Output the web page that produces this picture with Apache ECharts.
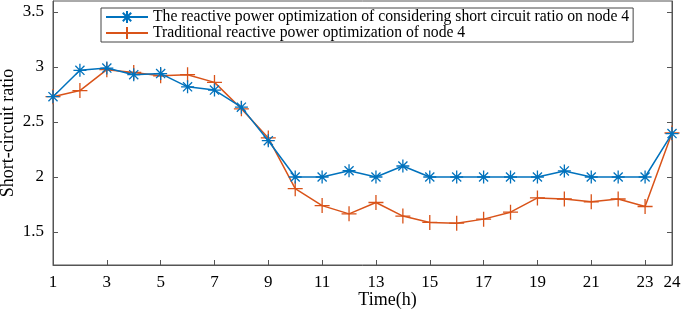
<!DOCTYPE html>
<html>
<head>
<meta charset="utf-8">
<script src="https://cdn.jsdelivr.net/npm/echarts@6/dist/echarts.min.js"></script>
<style>
html, body { margin: 0; padding: 0; background: #fff; }
#main { width: 699px; height: 309px; }
</style>
</head>
<body>
<div id="main"></div>
<script>
var hours = [1, 2, 3, 4, 5, 6, 7, 8, 9, 10, 11, 12, 13, 14, 15, 16, 17, 18, 19, 20, 21, 22, 23, 24];
var withScr = [2.73, 2.97, 2.99, 2.93, 2.94, 2.82, 2.79, 2.635, 2.33, 2.0, 2.0, 2.057, 2.0, 2.10, 2.0, 2.0, 2.0, 2.0, 2.0, 2.055, 2.0, 2.0, 2.0, 2.395];
var traditional = [2.73, 2.786, 2.976, 2.95, 2.92, 2.93, 2.86, 2.62, 2.355, 1.894, 1.74, 1.665, 1.768, 1.645, 1.587, 1.58, 1.617, 1.68, 1.81, 1.80, 1.774, 1.80, 1.732, 2.40];
var xTicks = [1, 3, 5, 7, 9, 11, 13, 15, 17, 19, 21, 23, 24];
var yTicks = [1.5, 2, 2.5, 3, 3.5];
var seriesNames = [
    'The reactive power optimization of considering short circuit ratio on node 4',
    'Traditional reactive power optimization of node 4'
];

var myChart = echarts.init(document.getElementById('main'));

function pairs(ys) {
    return ys.map(function(v, i) { return [hours[i], v]; });
}

var starPath = 'path://M0,-10L0,10M-10,0L10,0M-7,-7L7,7M-7,7L7,-7';
var plusPath = 'path://M0,-10L0,10M-10,0L10,0';
var font = '"Liberation Serif", "Times New Roman", serif';

var option = {
    animation: false,
    textStyle: { fontFamily: font },
    grid: {
        left: 53, right: 27, top: 1, bottom: 44,
        outerBoundsMode: 'none',
        show: true, borderColor: '#555', borderWidth: 1, backgroundColor: 'transparent'
    },
    legend: {
        orient: 'vertical',
        left: 101, top: 8,
        width: 530,
        padding: [1, 4, 1, 4],
        itemGap: 0,
        itemWidth: 42,
        itemHeight: 15,
        borderColor: '#444',
        borderWidth: 1,
        backgroundColor: '#fff',
        textStyle: { fontFamily: font, fontSize: 15.7, color: '#000' },
        data: seriesNames
    },
    xAxis: {
        type: 'value',
        min: 1, max: 24,
        name: 'Time(h)',
        nameLocation: 'middle',
        nameGap: 26,
        nameMoveOverlap: false,
        nameTextStyle: { fontFamily: font, fontSize: 18, color: '#000', padding: [0, 0, 0, 50] },
        axisLine: { lineStyle: { color: '#555' } },
        axisTick: { inside: true, length: 5, customValues: xTicks, lineStyle: { color: '#555' } },
        axisLabel: { customValues: xTicks, fontFamily: font, fontSize: 17, color: '#000', margin: 9 },
        splitLine: { show: false }
    },
    yAxis: [{
        type: 'value',
        min: 1.2, max: 3.6,
        name: 'Short-circuit ratio',
        nameLocation: 'middle',
        nameGap: 36,
        nameMoveOverlap: false,
        nameTextStyle: { fontFamily: font, fontSize: 18, color: '#000' },
        axisLine: { show: true, lineStyle: { color: '#555' } },
        axisTick: { show: true, inside: true, length: 5, customValues: yTicks, lineStyle: { color: '#555' } },
        axisLabel: { customValues: yTicks, fontFamily: font, fontSize: 17, color: '#000', margin: 9 },
        splitLine: { show: false }
    }, {
        type: 'value',
        position: 'right',
        min: 1.2, max: 3.6,
        axisLine: { show: true, lineStyle: { color: '#555' } },
        axisTick: { show: true, inside: true, length: 5, customValues: yTicks, lineStyle: { color: '#555' } },
        axisLabel: { show: false },
        splitLine: { show: false }
    }],
    series: [{
        name: seriesNames[0],
        type: 'line',
        data: pairs(withScr),
        symbol: starPath,
        symbolSize: 13,
        z: 3,
        lineStyle: { color: '#0072BD', width: 1.5 },
        itemStyle: { color: '#0072BD', borderColor: '#0072BD', borderWidth: 1.3 }
    }, {
        name: seriesNames[1],
        type: 'line',
        data: pairs(traditional),
        symbol: plusPath,
        symbolSize: 15,
        z: 2,
        lineStyle: { color: '#D95319', width: 1.5 },
        itemStyle: { color: '#D95319', borderColor: '#D95319', borderWidth: 1.3 }
    }]
};

myChart.setOption(option);
</script>
</body>
</html>
